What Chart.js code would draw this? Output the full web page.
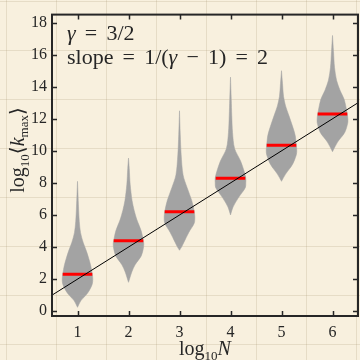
<!DOCTYPE html>
<html>
<head>
<meta charset="utf-8">
<script src="https://cdn.jsdelivr.net/npm/chart.js@4.4.0/dist/chart.umd.min.js"></script>
<style>
  html, body { margin: 0; padding: 0; background: #f8f1e1; }
  #wrap { width: 360px; height: 360px; }
</style>
</head>
<body>
<div id="wrap"><canvas id="chart" width="360" height="360"></canvas></div>
<script>
'use strict';

// x positions (log10 N) and medians of log10 <k_max>
var logN = [1, 2, 3, 4, 5, 6];
var medians = [2.3, 4.4, 6.2, 8.3, 10.35, 12.3];

// violin outlines: levels and half widths (x units)
var violinY = [
  [0.24, 0.65, 1.05, 1.4, 1.7, 2.0, 2.3, 2.9, 3.7, 4.3, 4.9, 5.6, 6.5, 7.3, 8.1],
  [1.8, 2.45, 2.9, 3.45, 3.9, 4.2, 4.4, 5.0, 5.7, 6.3, 6.9, 7.9, 8.9, 9.55],
  [3.8, 4.0, 4.29, 4.9, 5.5, 5.9, 6.2, 6.9, 7.7, 8.5, 9.75, 11.0, 12.5],
  [6.0, 6.5, 7.1, 7.7, 8.0, 8.3, 8.7, 9.35, 10.15, 11.15, 12.2, 13.2, 14.6],
  [8.1, 8.55, 9.15, 9.75, 10.05, 10.35, 10.95, 11.55, 12.2, 12.8, 13.4, 14.2, 15.0],
  [9.95, 10.55, 11.15, 11.75, 12.05, 12.3, 13.2, 13.8, 14.4, 15.2, 16.2, 17.2]
];
var violinW = [
  [0, 0.065, 0.18, 0.25, 0.29, 0.3, 0.29, 0.255, 0.18, 0.11, 0.06, 0.035, 0.02, 0.01, 0],
  [0, 0.065, 0.13, 0.25, 0.29, 0.3, 0.29, 0.25, 0.165, 0.11, 0.07, 0.033, 0.015, 0],
  [0, 0.04, 0.085, 0.18, 0.29, 0.3, 0.29, 0.24, 0.15, 0.07, 0.033, 0.015, 0],
  [0, 0.05, 0.16, 0.29, 0.3, 0.3, 0.27, 0.2, 0.08, 0.04, 0.025, 0.015, 0],
  [0, 0.08, 0.215, 0.29, 0.3, 0.29, 0.27, 0.215, 0.145, 0.08, 0.04, 0.02, 0],
  [0, 0.1, 0.24, 0.3, 0.3, 0.29, 0.23, 0.145, 0.08, 0.04, 0.02, 0]
];
var medianHalf = 0.29;

// reference line, slope 2
var fitX = [0.5, 6.5];
var fitY = [1, 13];

var xTicks = [1, 2, 3, 4, 5, 6];
var yTicks = [0, 2, 4, 6, 8, 10, 12, 14, 16, 18];

var ink = '#262626';
var serif = "'Liberation Serif', 'DejaVu Serif', serif";

var datasets = [];
logN.forEach(function (x, i) {
  var pts = [];
  var ys = violinY[i], ws = violinW[i];
  for (var k = 0; k < ys.length; k++) pts.push({x: x + ws[k], y: ys[k]});
  for (var k = ys.length - 1; k >= 0; k--) pts.push({x: x - ws[k], y: ys[k]});
  datasets.push({
    data: pts,
    showLine: true,
    fill: 'shape',
    tension: 0.3,
    backgroundColor: '#a3a3a3',
    borderColor: '#a3a3a3',
    borderWidth: 0.5,
    pointRadius: 0,
    order: 3
  });
  datasets.push({
    data: [{x: x - medianHalf, y: medians[i]}, {x: x + medianHalf, y: medians[i]}],
    showLine: true,
    borderColor: '#ff0000',
    borderWidth: 3,
    pointRadius: 0,
    order: 2
  });
});
datasets.push({
  data: fitX.map(function (x, i) { return {x: x, y: fitY[i]}; }),
  showLine: true,
  borderColor: '#000000',
  borderWidth: 1,
  pointRadius: 0,
  order: 1
});

// text with sub/italic parts: [text, size, italic, dy]
function fontFor(p) {
  return (p[2] ? 'italic ' : 'normal ') + p[1] + 'px ' + serif;
}
function richWidth(ctx, parts) {
  var w = 0;
  parts.forEach(function (p) {
    ctx.font = fontFor(p);
    w += ctx.measureText(p[0]).width;
  });
  return w;
}
function drawRich(ctx, parts, x, y) {
  parts.forEach(function (p) {
    ctx.font = fontFor(p);
    ctx.fillText(p[0], x, y + (p[3] || 0));
    x += ctx.measureText(p[0]).width;
  });
}

var paper = {
  id: 'paper',
  beforeDraw: function (chart) {
    var ctx = chart.ctx;
    ctx.save();
    ctx.fillStyle = '#f8f0de';
    ctx.fillRect(0, 0, chart.width, chart.height);
    ctx.strokeStyle = 'rgba(170, 150, 115, 0.22)';
    ctx.lineWidth = 1;
    for (var gx = 6.5; gx < chart.width; gx += 50) {
      ctx.beginPath(); ctx.moveTo(gx, 0); ctx.lineTo(gx, chart.height); ctx.stroke();
    }
    for (var gy = 1.5; gy < chart.height; gy += 49) {
      ctx.beginPath(); ctx.moveTo(0, gy); ctx.lineTo(chart.width, gy); ctx.stroke();
    }
    ctx.restore();
  },
  afterDraw: function (chart) {
    var ctx = chart.ctx, a = chart.chartArea;
    var sx = chart.scales.x, sy = chart.scales.y;
    ctx.save();
    ctx.strokeStyle = ink;
    ctx.lineWidth = 2;
    ctx.strokeRect(a.left, a.top, a.right - a.left, a.bottom - a.top);
    ctx.lineWidth = 1.5;
    var tl = 5;
    xTicks.forEach(function (v) {
      var px = Math.round(sx.getPixelForValue(v)) + 0.5;
      ctx.beginPath();
      ctx.moveTo(px, a.bottom); ctx.lineTo(px, a.bottom - tl);
      ctx.moveTo(px, a.top); ctx.lineTo(px, a.top + tl);
      ctx.stroke();
    });
    yTicks.forEach(function (v) {
      var py = Math.round(sy.getPixelForValue(v)) + 0.5;
      ctx.beginPath();
      ctx.moveTo(a.left, py); ctx.lineTo(a.left + tl, py);
      ctx.moveTo(a.right, py); ctx.lineTo(a.right - tl, py);
      ctx.stroke();
    });

    ctx.fillStyle = ink;
    ctx.textBaseline = 'alphabetic';
    ctx.textAlign = 'left';
    // annotations
    var sp = ' \u2006';
    drawRich(ctx, [['γ', 22, true], [sp + '=' + sp + '3/2', 22, false]], 67, 39.5);
    drawRich(ctx, [['slope' + sp + '=' + sp + '1/(', 22, false], ['γ', 22, true], [sp + '−' + sp + '1)' + sp + '=' + sp + '2', 22, false]], 67, 63.5);

    // x title
    var xt = [['log', 20, false], ['10', 13, false, 5], ['N', 20, true]];
    var w = richWidth(ctx, xt);
    drawRich(ctx, xt, (a.left + a.right) / 2 - w / 2, 355);

    // y title
    var yt = [['log', 20, false], ['10', 13, false, 5], ['⟨', 20, false], ['k', 20, true], ['max', 13, false, 4], ['⟩', 20, false]];
    w = richWidth(ctx, yt);
    ctx.translate(24, 150);
    ctx.rotate(-Math.PI / 2);
    drawRich(ctx, yt, -w / 2, 0);
    ctx.restore();
  }
};

Chart.defaults.font.family = serif;
Chart.defaults.color = ink;

new Chart(document.getElementById('chart'), {
  type: 'scatter',
  data: {datasets: datasets},
  options: {
    responsive: false,
    devicePixelRatio: 1,
    animation: false,
    layout: {padding: {top: 6, right: 2, left: 0, bottom: 0}},
    plugins: {legend: {display: false}, tooltip: {enabled: false}},
    scales: {
      x: {
        type: 'linear',
        min: 0.5,
        max: 6.5,
        grid: {display: false, drawTicks: false},
        border: {display: false},
        afterBuildTicks: function (s) { s.ticks = xTicks.map(function (v) { return {value: v}; }); },
        afterFit: function (s) { s.height = 44; },
        ticks: {padding: 7, font: {size: 16}, color: ink, maxRotation: 0}
      },
      y: {
        type: 'linear',
        min: -0.3,
        max: 18.5,
        grid: {display: false, drawTicks: false},
        border: {display: false},
        afterBuildTicks: function (s) { s.ticks = yTicks.map(function (v) { return {value: v}; }); },
        afterFit: function (s) { s.width = 52; },
        ticks: {padding: 5, font: {size: 16}, color: ink}
      }
    }
  },
  plugins: [paper]
});
</script>
</body>
</html>
